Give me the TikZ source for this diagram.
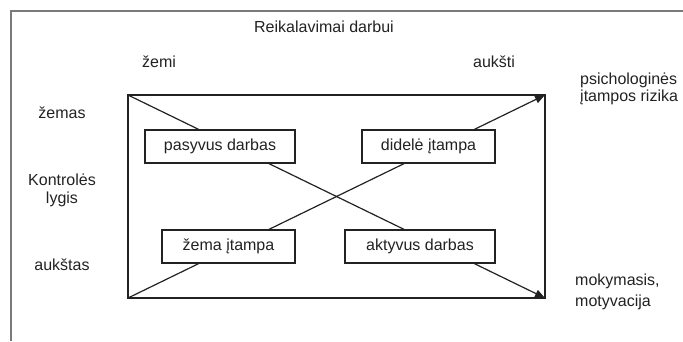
\documentclass[tikz,border=0pt]{standalone}
\usepackage{fontspec}
\setmainfont{Liberation Sans}
\usetikzlibrary{arrows.meta}
\definecolor{ink}{HTML}{222222}
\definecolor{framegray}{HTML}{7A7A7A}
\begin{document}
\begin{tikzpicture}[x=1pt,y=-1pt,
  every node/.style={font=\fontsize{16}{20}\selectfont, text=ink, inner sep=0pt},
  label/.style={align=center},
  sidelabel/.style={align=left, anchor=west},
  quadbox/.style={draw=ink, line width=1.2pt, minimum height=33pt, fill=white},
  diag/.style={draw=ink, line width=1.2pt},
  tip/.style={-{Triangle[length=10pt,width=8pt]}}]
\useasboundingbox (0,0) rectangle (683,341);

% outer frame
\draw[framegray, line width=2pt] (11,341) -- (11,11) -- (683,11);

% axis captions
\node[label] (title) at (324,27) {Reikalavimai darbui};
\node[label] (lowdem) at (159,62) {žemi};
\node[label] (highdem) at (494,62) {aukšti};
\node[label] (lowctl) at (62,113) {žemas};
\node[label, font=\fontsize{16}{18}\selectfont] (ctl) at (62,190) {Kontrolės\\lygis};
\node[label] (highctl) at (62,265) {aukštas};
\node[sidelabel, font=\fontsize{16}{17.5}\selectfont] (risk) at (580,89) {psichologinės\\įtampos rizika};
\node[sidelabel, font=\fontsize{16}{20.5}\selectfont] (learn) at (575,292) {mokymasis,\\motyvacija};

% main field
\coordinate (TL) at (128,95);
\coordinate (TR) at (545,95);
\coordinate (BL) at (128,298);
\coordinate (BR) at (545,298);
\draw[ink, line width=1.2pt] (TL) rectangle (BR);

% quadrants
\node[quadbox, minimum width=150pt] (pas) at (220,146.5) {pasyvus darbas};
\node[quadbox, minimum width=133pt] (did) at (428.5,146.5) {didelė įtampa};
\node[quadbox, minimum width=133pt] (zem) at (228.5,246.5) {žema įtampa};
\node[quadbox, minimum width=150pt] (akt) at (420,246.5) {aktyvus darbas};

% crossing points of the diagonals with the boxes
\coordinate (pasT) at (intersection of TL--BR and pas.north west--pas.north east);
\coordinate (pasB) at (intersection of TL--BR and pas.south west--pas.south east);
\coordinate (aktT) at (intersection of TL--BR and akt.north west--akt.north east);
\coordinate (aktB) at (intersection of TL--BR and akt.south west--akt.south east);
\coordinate (zemB) at (intersection of BL--TR and zem.south west--zem.south east);
\coordinate (zemT) at (intersection of BL--TR and zem.north west--zem.north east);
\coordinate (didB) at (intersection of BL--TR and did.south west--did.south east);
\coordinate (didT) at (intersection of BL--TR and did.north west--did.north east);

% diagonal paths
\draw[diag] (TL) -- (pasT);
\draw[diag] (pasB) -- (aktT);
\draw[diag, tip] (aktB) -- (BR);
\draw[diag] (BL) -- (zemB);
\draw[diag] (zemT) -- (didB);
\draw[diag, tip] (didT) -- (TR);
\end{tikzpicture}
\end{document}
